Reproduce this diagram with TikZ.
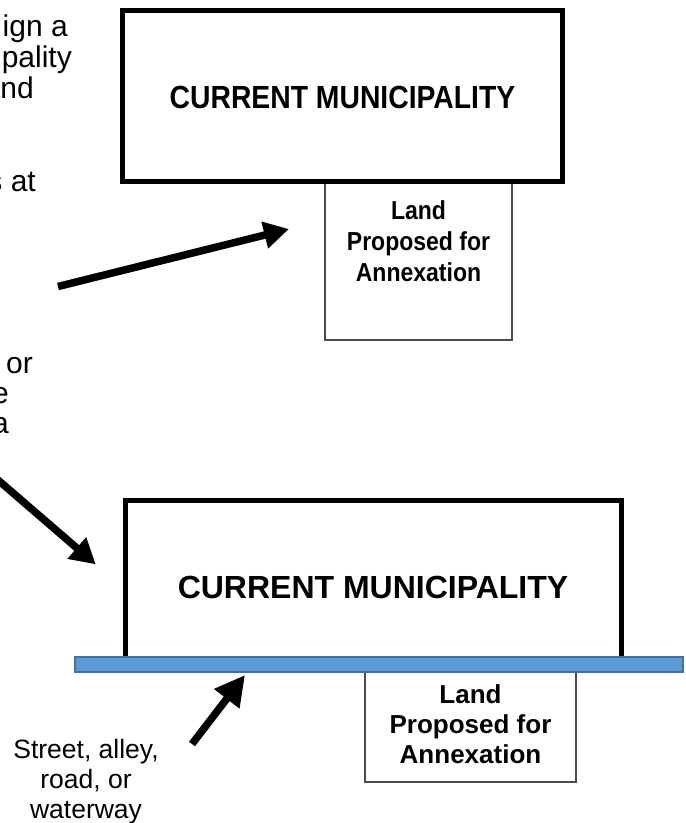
\documentclass[tikz,border=0pt]{standalone}
\usepackage{fontspec}
\setmainfont{Liberation Sans}
\usetikzlibrary{arrows.meta}
\definecolor{barfill}{HTML}{5B9BD5}
\definecolor{barline}{HTML}{41719C}
\tikzset{
  bigbox/.style={draw=black, line width=5pt, inner sep=0pt, outer sep=0pt},
  landbox/.style={draw=black!70, line width=1.5pt, inner sep=0pt, outer sep=0pt},
  roadbar/.style={draw=barline, fill=barfill, line width=1.5pt, inner sep=0pt, outer sep=0pt},
  bigtxt/.style={font=\fontsize{32}{36}\selectfont\bfseries, inner sep=0pt},
  landtxt/.style={align=center, anchor=north, inner sep=0pt},
  frag/.style={anchor=base east, inner sep=0pt, font=\fontsize{30}{33}\selectfont},
  fatarrow/.style={line width=7.5pt}
}
\begin{document}
\begin{tikzpicture}[x=1pt,y=-1pt]
\useasboundingbox (0,0) rectangle (686,823);
\fill[white] (0,0) rectangle (686,823);
\clip (0,0) rectangle (686,823);

% cut-off text fragments at the left edge
\node[frag] (f1) at (68,36) {ign a};
\node[frag] (f2) at (72,67) {pality};
\node[frag] (f3) at (34,98) {and};
\node[frag] (f4) at (36,191) {s at};
\node[frag] (f5) at (33,373) {or};
\node[frag] (f6) at (9,403) {e};
\node[frag] (f7) at (9,433) {a};

% ---------- top diagram ----------
\node[landbox, minimum width=187pt, minimum height=158pt] (land1) at (418.5,261) {};
\node[bigbox, minimum width=440pt, minimum height=171pt] (muni1) at (342.5,96) {};
\node[bigtxt, xscale=0.885] (muni1t) at (342.5,97) {CURRENT MUNICIPALITY};
\node[landtxt, xscale=0.885, font=\fontsize{26}{31}\selectfont\bfseries] (land1t) at (418.5,200.4)
  {Land\\Proposed for\\Annexation};

\coordinate (a1s) at (58,286.5);
\coordinate (a1e) at (289,229);
\draw[fatarrow, -{Triangle[length=25pt,width=26pt]}] (a1s) -- (a1e);

% ---------- bottom diagram ----------
\coordinate (a2s) at (-12,471.4);
\coordinate (a2e) at (95.7,564.3);
\draw[fatarrow, -{Triangle[length=25pt,width=27pt]}] (a2s) -- (a2e);

\node[landbox, minimum width=211pt, minimum height=110pt] (land2) at (470.5,727) {};
\node[bigbox, minimum width=495.5pt, minimum height=167pt] (muni2) at (373.25,584.2) {};
\node[bigtxt] (muni2t) at (373,587) {CURRENT MUNICIPALITY};
\node[roadbar, minimum width=608pt, minimum height=15pt] (road) at (379,664.5) {};
\node[landtxt, font=\fontsize{26}{30}\selectfont\bfseries] (land2t) at (470.5,684.4)
  {Land\\Proposed for\\Annexation};

\node[landtxt, font=\fontsize{26.5}{30}\selectfont] (street) at (86,739)
  {Street, alley,\\road, or\\waterway};
\coordinate (a3s) at (192,744);
\coordinate (a3e) at (245,675);
\draw[fatarrow, -{Triangle[length=30pt,width=30pt]}] (a3s) -- (a3e);
\end{tikzpicture}
\end{document}
